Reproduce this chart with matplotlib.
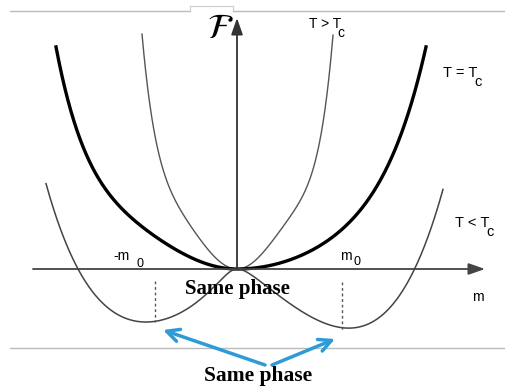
import numpy as np
import matplotlib.pyplot as plt

plt.rcParams['mathtext.fontset'] = 'stix'

# points: m (right of the F axis), F (above the m axis), pixel units
m_above = [-95, -74, -49, -30, -17, 0, 16, 31, 49, 76, 96]
F_above = [235, 99, 49, 19, 4, 0, 6, 19, 49, 99, 234]

m_crit = [-181, -137, -107, -74, -40, -20, 0, 26, 49, 82, 109, 143, 189]
F_crit = [222, 89, 51, 27, 12, 4, 0, 4, 11, 22, 42, 89, 222]

m_below = [-191, -174, -159, -124, -82, -57, -34, -14, 0,
           16, 23, 48, 76, 105, 149, 177, 192, 206]
F_below = [86, 32, 0, -41, -54, -44, -27, -9, 0,
           -8, -13, -30, -48, -61, -41, 0, 32, 81]

m0_left = -82
m0_right = 105

fig = plt.figure(figsize=(5.06, 3.87), dpi=100)
ax = fig.add_axes([0, 0, 1, 1])
ax.set_xlim(-237, 269)
ax.set_ylim(-118, 269)
ax.axis('off')


def half_fit(ms, Fs, side, powers, eps=0.0):
    # least squares on one side of the F axis, through the origin
    ms = np.asarray(ms, float)
    Fs = np.asarray(Fs, float)
    keep = ms * side >= 0
    u = np.abs(ms[keep]) / 100
    u = np.sqrt(u ** 2 + eps ** 2) - eps
    A = np.column_stack([u ** p for p in powers])
    c = np.linalg.lstsq(A, Fs[keep], rcond=None)[0]
    xs = np.linspace(0, np.abs(ms[keep]).max(), 300) / 100
    us = np.sqrt(xs ** 2 + eps ** 2) - eps
    ys = np.column_stack([us ** p for p in powers]) @ c
    return side * xs * 100, ys


def draw(ms, Fs, powers, eps=0.0, **kw):
    xl, yl = half_fit(ms, Fs, -1, powers, eps)
    xr, yr = half_fit(ms, Fs, 1, powers, eps)
    ax.plot(np.r_[xl[::-1], xr], np.r_[yl[::-1], yr], **kw)


draw(m_above, F_above, (2, 4, 6), color='#555555', lw=1.0)
draw(m_crit, F_crit, (2, 4, 6), color='black', lw=2.4)
draw(m_below, F_below, (1, 2, 3, 4), eps=0.12, color='#444444', lw=1.1)

# dotted markers of the minima
ax.plot([m0_left, m0_left], [-12, -53], color='#555555', lw=1, ls=(0, (2, 2)))
ax.plot([m0_right, m0_right], [-13, -61], color='#555555', lw=1, ls=(0, (2, 2)))

# axes with arrows
ax.annotate('', xy=(248, 0), xytext=(-204, 0),
            arrowprops=dict(arrowstyle='-|>,head_length=1.0,head_width=0.35',
                            color='#444444', lw=1.3, shrinkA=0, shrinkB=0))
ax.annotate('', xy=(0, 251), xytext=(0, 0),
            arrowprops=dict(arrowstyle='-|>,head_length=1.0,head_width=0.35',
                            color='#333333', lw=1.3, shrinkA=0, shrinkB=0))

# gray frame lines
ax.plot([-227, -47], [258, 258], color='#bbbbbb', lw=1)
ax.plot([-47, -47, -4, -4], [258, 263, 263, 258], color='#cccccc', lw=0.8)
ax.plot([-4, 269], [258, 258], color='#bbbbbb', lw=1)
ax.plot([-227, 269], [-79, -79], color='#bbbbbb', lw=1)

# labels
ax.text(-17, 241, r'$\mathcal{F}$', fontsize=25, ha='center', va='center')
sans = 'Liberation Sans'


def t_label(x0, y0, s, size=10.5):
    t = ax.text(x0, y0, s, fontsize=size, family=sans, ha='left', va='center')
    ax.annotate('c', xy=(1, 0), xycoords=t, xytext=(-2.5, 3.5),
                textcoords='offset points', fontsize=size, family=sans,
                ha='left', va='top')


t_label(72, 245, 'T > T', 10)
t_label(206, 196, 'T = T')
t_label(218, 46, 'T < T')
ax.text(241, -28, 'm', fontsize=10, family=sans, ha='center', va='center')
ax.text(-124, 13, '-m', fontsize=10, family=sans, ha='left', va='center')
ax.text(-100, 5, '0', fontsize=9, family=sans, ha='left', va='center')
ax.text(103, 13, 'm', fontsize=10, family=sans, ha='left', va='center')
ax.text(117, 7, '0', fontsize=9, family=sans, ha='left', va='center')

serif = 'Liberation Serif'
ax.text(0, -20, 'Same phase', fontsize=15, family=serif, weight='bold',
        ha='center', va='center')
ax.text(21, -107, 'Same phase', fontsize=15.5, family=serif, weight='bold',
        ha='center', va='center')

# blue arrows
blue = '#2f9bd6'
ax.annotate('', xy=(-74, -61), xytext=(28, -96),
            arrowprops=dict(arrowstyle='->,head_length=0.9,head_width=0.45',
                            color=blue, lw=2.5, shrinkA=0, shrinkB=0))
ax.annotate('', xy=(98, -70), xytext=(35, -96),
            arrowprops=dict(arrowstyle='->,head_length=0.9,head_width=0.45',
                            color=blue, lw=2.5, shrinkA=0, shrinkB=0))

fig.savefig('out.png', dpi=100)
